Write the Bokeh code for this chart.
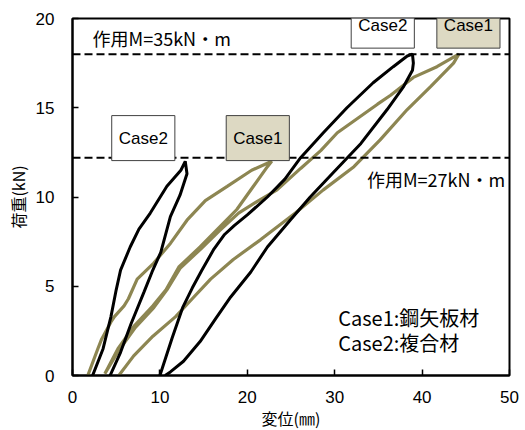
from bokeh.plotting import figure
from bokeh.models import Label, Span, Range1d, FixedTicker
from bokeh.embed import file_html
from bokeh.resources import INLINE

# ---- data (displacement mm, load kN) ----
case1_x = [1.75, 2.9, 3.3, 4.4, 4.8, 5.9, 6.4, 7.4, 9.3, 11.2, 13.1, 15.2, 17.7, 20.5, 22.8,
           22.3, 20.7, 18.8, 16.6, 14.6, 12.2, 10.7, 9.2, 7.1, 5.2, 3.7,
           5.3, 7.2, 9.3, 10.8, 12.3, 14.7, 16.8, 19.0, 21.3, 23.4, 26.1, 28.4, 30.3, 32.6, 34.9, 36.4, 39.0, 41.7, 44.2,
           43.6, 41.0, 38.3, 35.2, 32.2, 28.7, 25.5, 21.5, 18.4, 15.8, 13.7, 11.8, 9.2, 7.0, 5.3]
case1_y = [0.0, 1.5, 2.0, 3.0, 3.3, 3.9, 4.3, 5.4, 6.3, 7.4, 8.7, 9.8, 10.6, 11.5, 12.0,
           11.7, 10.6, 9.3, 8.2, 7.2, 6.1, 4.8, 3.9, 2.8, 1.5, 0.1,
           1.4, 2.7, 3.8, 4.8, 6.0, 7.1, 8.1, 9.1, 9.8, 10.4, 11.6, 12.6, 13.6, 14.4, 15.2, 15.7, 16.7, 17.3, 18.0,
           17.5, 16.2, 14.9, 13.2, 11.7, 10.4, 9.1, 7.6, 6.5, 5.4, 4.3, 3.3, 2.2, 1.1, 0.0]

case2_small_x = [2.3, 3.5, 4.4, 5.0, 5.5, 6.6, 7.6, 8.9, 10.8, 12.4, 12.9, 13.1, 12.3, 11.2, 10.1, 9.1, 8.2, 6.7, 5.5, 4.3]
case2_small_y = [0.0, 1.5, 3.3, 4.8, 5.9, 7.2, 8.2, 9.1, 10.6, 11.5, 12.0, 11.3, 10.1, 8.9, 6.9, 5.8, 4.7, 2.9, 1.3, 0.0]

case2_big_x = [10.0, 11.4, 12.6, 13.7, 14.8, 16.2, 17.4, 18.5, 20.0, 22.3, 24.3, 26.1, 28.7, 31.4, 34.4, 36.7, 38.3, 38.9,
               39.0, 38.9, 37.9, 36.0, 33.0, 29.9, 27.2, 24.9, 22.3, 20.4, 18.1, 16.4, 14.6, 12.7, 11.2, 10.6]
case2_big_y = [0.0, 2.1, 3.8, 4.9, 5.9, 7.1, 7.9, 8.4, 9.0, 10.0, 11.0, 12.2, 13.6, 15.0, 16.4, 17.3, 17.9, 18.0,
               17.5, 17.1, 16.2, 14.9, 13.0, 11.4, 10.0, 8.7, 7.2, 5.8, 4.4, 3.2, 1.9, 0.8, 0.2, 0.0]

ref_loads = [18.0, 12.2]
x_ticks = [0, 10, 20, 30, 40, 50]
y_ticks = [0, 5, 10, 15, 20]

KHAKI = "#8D8652"
LATIN = "Liberation Sans"
CJK = "Noto Sans CJK JP"

p = figure(frame_width=437, frame_height=357, x_range=Range1d(0, 50), y_range=Range1d(0, 20),
           output_backend="svg", toolbar_location=None,
           min_border_left=72, min_border_top=18, min_border_right=12, min_border_bottom=46)
p.xgrid.visible = False
p.ygrid.visible = False
p.outline_line_color = "black"
p.outline_line_width = 2
p.background_fill_color = "white"

for ax in (p.xaxis[0], p.yaxis[0]):
    ax.axis_line_width = 2
    ax.axis_line_color = "black"
    ax.major_tick_in = 6
    ax.major_tick_out = 0
    ax.major_tick_line_width = 1.5
    ax.minor_tick_line_color = None
    ax.major_label_text_font = LATIN
    ax.major_label_text_font_size = "17px"
    ax.major_label_text_color = "black"
    ax.axis_label_text_font = CJK
    ax.axis_label_text_font_size = "16px"
    ax.axis_label_text_font_style = "normal"
    ax.axis_label_text_color = "black"

p.xaxis.ticker = FixedTicker(ticks=x_ticks)
p.yaxis.ticker = FixedTicker(ticks=y_ticks)
p.xaxis.major_label_standoff = 15
p.yaxis.major_label_standoff = 18
p.xaxis.axis_label = "変位(㎜)"
p.yaxis.axis_label = "荷重(kN)"
p.xaxis.axis_label_standoff = 0
p.yaxis.axis_label_standoff = 3

p.line(case1_x, case1_y, line_color=KHAKI, line_width=3.2)
p.line(case2_small_x, case2_small_y, line_color="black", line_width=3)
p.line(case2_big_x, case2_big_y, line_color="black", line_width=3)

for yv in ref_loads:
    p.add_layout(Span(location=yv, dimension="width", line_color="black", line_width=2, line_dash="8 4"))

def box(x, y, text, fill):
    p.add_layout(Label(x=x, y=y, text=text, text_align="center", text_baseline="middle",
                       text_font=LATIN, text_font_size="17px", text_color="black",
                       background_fill_color=fill, border_line_color="#404040", border_line_width=1,
                       padding=(7, 13)))

box(35.5, 19.6, "Case2", "white")
box(45.3, 19.6, "Case1", "#DDD9C3")
box(8.1, 13.3, "Case2", "white")
box(21.2, 13.3, "Case1", "#DDD9C3")

p.add_layout(Label(x=2.3, y=18.9, text="作用M=35kN・m", text_align="left", text_baseline="middle",
                   text_font=CJK, text_font_size="18px", text_color="black"))
p.add_layout(Label(x=49.5, y=11.0, text="作用M=27kN・m", text_align="right", text_baseline="middle",
                   text_font=CJK, text_font_size="18px", text_color="black"))
p.add_layout(Label(x=30.4, y=3.25, text="Case1:鋼矢板材", text_align="left", text_baseline="middle",
                   text_font=CJK, text_font_size="20px", text_color="black"))
p.add_layout(Label(x=30.4, y=1.85, text="Case2:複合材", text_align="left", text_baseline="middle",
                   text_font=CJK, text_font_size="20px", text_color="black"))

open("out.html", "w").write(file_html(p, INLINE))
